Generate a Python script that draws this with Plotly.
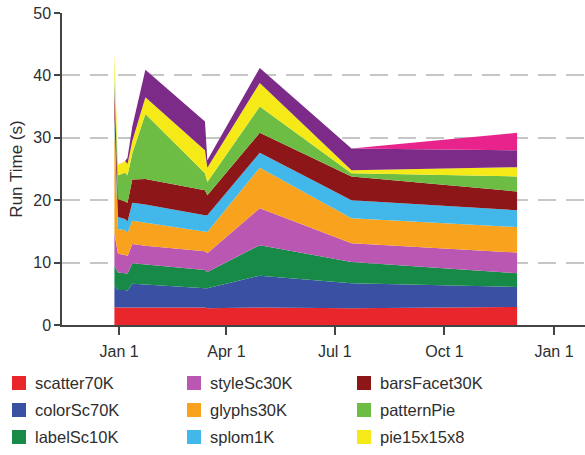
import plotly.graph_objects as go

# Benchmark run dates
dates = [
    "2022-12-28", "2022-12-31", "2023-01-06", "2023-01-08", "2023-01-12",
    "2023-01-23", "2023-03-14", "2023-03-16", "2023-04-29", "2023-07-15",
    "2023-12-01",
]

# Run time per benchmark (seconds), stacked bottom to top
scatter70K   = [2.9, 2.8, 2.8, 2.8, 2.9, 2.9, 2.8, 2.7, 2.8, 2.7, 2.9]
colorSc70K   = [3.4, 2.8, 2.8, 2.7, 3.7, 3.6, 3.1, 3.2, 5.1, 4.0, 3.2]
labelSc10K   = [3.2, 2.8, 2.7, 2.7, 3.3, 3.2, 2.9, 2.6, 4.9, 3.4, 2.2]
styleSc30K   = [5.2, 3.0, 2.9, 2.8, 3.1, 3.0, 3.0, 3.0, 5.9, 3.0, 3.3]
glyphs30K    = [16.8, 4.0, 4.0, 3.8, 3.7, 3.7, 3.2, 3.4, 6.5, 4.0, 4.1]
splom1K      = [1.8, 1.9, 1.8, 1.8, 2.9, 2.9, 2.6, 2.7, 2.4, 2.9, 2.7]
barsFacet30K = [4.8, 2.9, 2.8, 3.0, 3.7, 4.1, 4.0, 3.2, 3.2, 3.8, 3.0]
patternPie   = [1.6, 3.8, 4.6, 4.4, 4.2, 10.4, 2.7, 2.1, 4.2, 0.5, 2.4]
pie15x15x8   = [4.1, 1.7, 1.9, 1.8, 2.0, 2.7, 3.7, 2.3, 3.8, 0.5, 1.5]
violin10K    = [0.0, 0.0, 0.0, 1.0, 2.3, 4.4, 4.6, 1.2, 2.4, 3.5, 2.7]
heatmap1K    = [0.0, 0.0, 0.0, 0.0, 0.0, 0.0, 0.0, 0.0, 0.0, 0.0, 2.8]

series = [
    ("scatter70K", scatter70K, "#e8262b"),
    ("colorSc70K", colorSc70K, "#3a51a3"),
    ("labelSc10K", labelSc10K, "#178a48"),
    ("styleSc30K", styleSc30K, "#b957b3"),
    ("glyphs30K", glyphs30K, "#f8a21d"),
    ("splom1K", splom1K, "#41b8e9"),
    ("barsFacet30K", barsFacet30K, "#8c1618"),
    ("patternPie", patternPie, "#6dbd45"),
    ("pie15x15x8", pie15x15x8, "#f5ea17"),
    ("violin10K", violin10K, "#7c2b88"),
    ("heatmap1K", heatmap1K, "#e8238b"),
]

tick_dates = ["2023-01-01", "2023-04-01", "2023-07-01", "2023-10-01", "2024-01-01"]
tick_labels = ["Jan 1", "Apr 1", "Jul 1", "Oct 1", "Jan 1"]

FONT = "Liberation Sans, Arial, sans-serif"
TEXT = "#2e2e2e"

fig = go.Figure()
for name, vals, color in series:
    fig.add_trace(go.Scatter(
        x=dates, y=vals, name=name, mode="lines", stackgroup="runs",
        line=dict(width=0, color=color), fillcolor=color, showlegend=False,
    ))

W, H = 585, 455
ML, MR, MT, MB = 62, 0, 13, 130
PW, PH = W - ML - MR, H - MT - MB

def px_x(px):
    return (px - ML) / PW

def px_y(py):
    return (H - MB - py) / PH

# Legend: three columns of three entries with square swatches
col_left = [12, 187, 357]
row_mid = [383, 410, 437]
sw = 14
shapes, annotations = [], []
for i, (name, _, color) in enumerate(series[:9]):
    cx, ry = col_left[i // 3], row_mid[i % 3]
    shapes.append(dict(
        type="rect", xref="paper", yref="paper",
        x0=px_x(cx), x1=px_x(cx + sw), y0=px_y(ry + sw / 2), y1=px_y(ry - sw / 2),
        fillcolor=color, line=dict(width=0), layer="above",
    ))
    annotations.append(dict(
        text=name, xref="paper", yref="paper", x=px_x(cx + sw + 7), y=px_y(ry),
        xanchor="left", yanchor="middle", showarrow=False,
        font=dict(family=FONT, size=16.5, color=TEXT),
    ))

fig.update_layout(
    width=W, height=H,
    margin=dict(l=ML, r=MR, t=MT, b=MB),
    paper_bgcolor="white", plot_bgcolor="white",
    font=dict(family=FONT, color=TEXT),
    shapes=shapes, annotations=annotations,
    xaxis=dict(
        type="date", range=["2022-11-14", "2024-01-27"],
        tickmode="array", tickvals=tick_dates, ticktext=tick_labels,
        ticks="outside", ticklen=8, tickwidth=1.5, tickcolor="#444",
        ticklabelstandoff=3,
        showline=True, linecolor="#444", linewidth=1.5,
        showgrid=False, zeroline=False,
        tickfont=dict(family=FONT, size=16, color=TEXT),
    ),
    yaxis=dict(
        range=[0, 50], tick0=0, dtick=10,
        ticks="outside", ticklen=6, tickwidth=1.5, tickcolor="#444",
        showline=True, linecolor="#444", linewidth=1.5,
        showgrid=True, gridcolor="#c6c6c6", gridwidth=1.5, griddash="18px,10px",
        zeroline=False,
        title=dict(text="Run Time (s)", font=dict(family=FONT, size=17, color=TEXT), standoff=6),
        tickfont=dict(family=FONT, size=16, color=TEXT),
    ),
)

fig.write_html("out.html")
